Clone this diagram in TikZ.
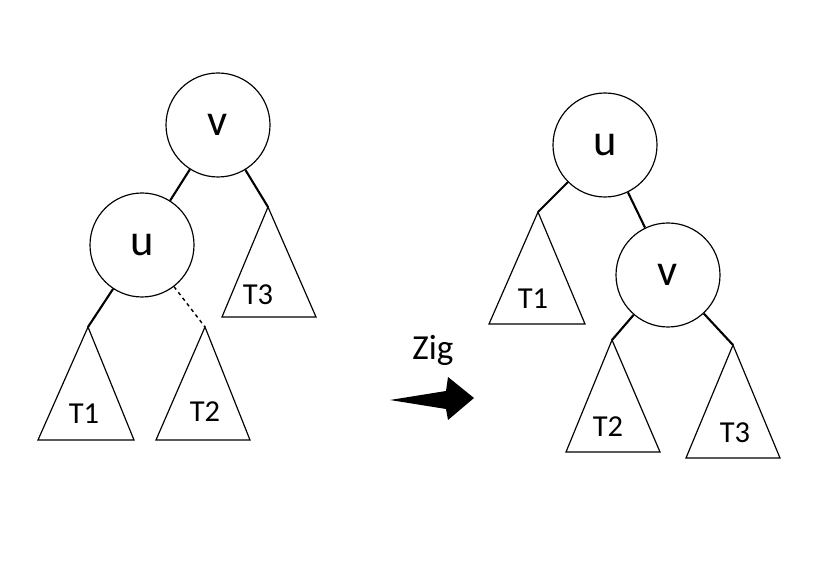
\documentclass[tikz,border=0pt]{standalone}
\usepackage{fontspec}
\setmainfont{Carlito}
\begin{document}
\begin{tikzpicture}[x=0.03cm,y=-0.03cm,
  nd/.style={circle,draw,line width=1pt,minimum size=3.12cm,inner sep=0pt,font=\fontsize{38}{40}\selectfont},
  tri/.style={draw,line width=1pt},
  tl/.style={font=\fontsize{26}{28}\selectfont},
  ed/.style={line width=1.8pt}]
\useasboundingbox (0,0) rectangle (830,571);
% left tree
\node[nd] (v1) at (218,125) {v};
\node[nd] (u1) at (142,245) {u};
\coordinate (a3) at (268,207);
\coordinate (a1) at (88,327);
\coordinate (a2) at (205,327);
\draw[tri] (a3) -- (222,317) -- (316,317) -- cycle;
\draw[tri] (a1) -- (38,440) -- (134,440) -- cycle;
\draw[tri] (a2) -- (156,440) -- (250,440) -- cycle;
\node[tl] (t3l) at (258,295) {T3};
\node[tl] (t1l) at (84,414) {T1};
\node[tl] (t2l) at (205,412) {T2};
\draw[ed] (v1) -- (u1);
\draw[ed] (v1) -- (a3);
\draw[ed] (u1) -- (a1);
\draw[line width=1.2pt,dashed] (u1) -- (a2);
% arrow
\node[font=\fontsize{30}{32}\selectfont] (zig) at (433,350) {Zig};
\fill (390,400) -- (446,391) -- (448,377) -- (474,398) -- (448,420) -- (446,409) -- cycle;
% right tree
\node[nd] (u2) at (605,145) {u};
\node[nd] (v2) at (668,275) {v};
\coordinate (b1) at (538,212);
\coordinate (b2) at (612,340);
\coordinate (b3) at (733,345);
\draw[tri] (b1) -- (489,324) -- (585,324) -- cycle;
\draw[tri] (b2) -- (566,452) -- (660,452) -- cycle;
\draw[tri] (b3) -- (686,458) -- (780,458) -- cycle;
\node[tl] (r1l) at (533,299) {T1};
\node[tl] (r2l) at (608,427) {T2};
\node[tl] (r3l) at (735,433) {T3};
\draw[ed] (u2) -- (b1);
\draw[ed] (u2) -- (v2);
\draw[ed] (v2) -- (b2);
\draw[ed] (v2) -- (b3);
\end{tikzpicture}
\end{document}
